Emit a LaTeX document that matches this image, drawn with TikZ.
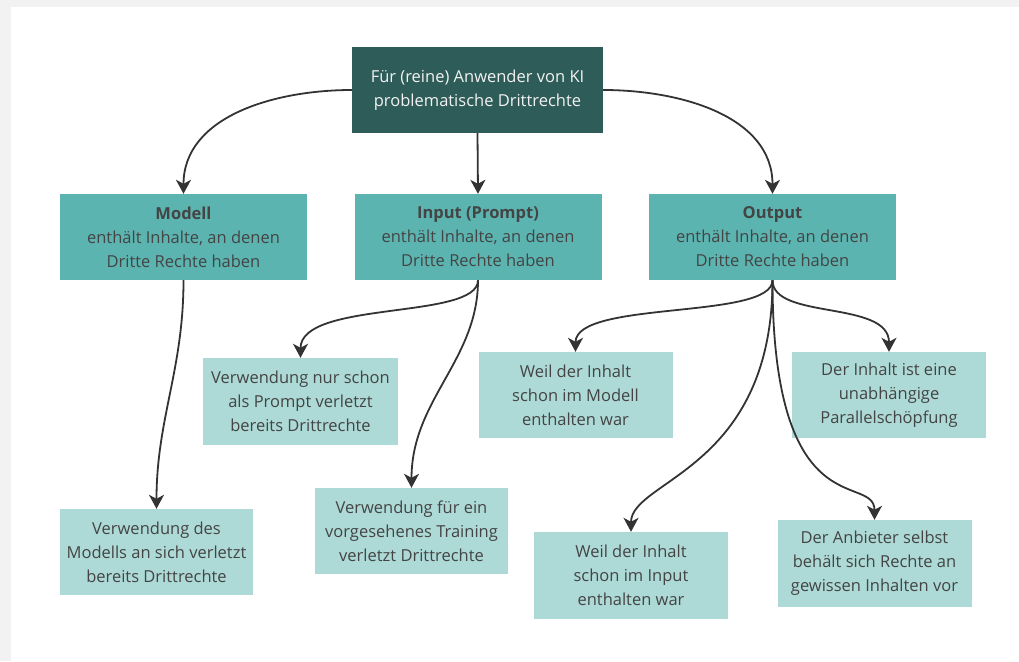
\documentclass[tikz,border=0pt]{standalone}
\usepackage{fontspec}
\setmainfont{Open Sans}
\usetikzlibrary{arrows.meta}
\definecolor{topfill}{HTML}{2E5C58}
\definecolor{midfill}{HTML}{5CB4B0}
\definecolor{leaffill}{HTML}{ADDAD7}
\definecolor{txt}{HTML}{444444}
\definecolor{toptxt}{HTML}{F2F2F2}
\definecolor{arr}{HTML}{333333}
\definecolor{shadow}{HTML}{F2F2F2}
\tikzset{
  box/.style={rectangle, inner sep=0pt, align=center, minimum height=86pt,
    font=\fontsize{16.5}{24}\selectfont, text=txt},
  topbox/.style={box, fill=topfill, text=toptxt, minimum width=251pt},
  midbox/.style={box, fill=midfill, minimum width=247pt},
  leafbox/.style={box, fill=leaffill, minimum width=194pt},
  conn/.style={draw=arr, line width=1.8pt,
    -{Stealth[length=14pt,width=15pt,inset=4pt]}}
}
\begin{document}
\begin{tikzpicture}[x=1pt,y=-1pt]
\useasboundingbox (0,0) rectangle (1019,661);
\fill[shadow] (0,0) rectangle (1019,661);
\fill[white] (11,7) rectangle (1019,661);

\node[topbox] (top) at (477.5,90) {Für (reine) Anwender von KI\\problematische Drittrechte};

\node[midbox] (modell) at (183.5,237) {\textbf{Modell}\\enthält Inhalte, an denen\\Dritte Rechte haben};
\node[midbox] (input) at (478,237) {\textbf{Input (Prompt)}\\enthält Inhalte, an denen\\Dritte Rechte haben};
\node[midbox] (output) at (772.5,237) {\textbf{Output}\\enthält Inhalte, an denen\\Dritte Rechte haben};

\node[leafbox, minimum width=193pt] (leafmodell) at (156.5,552) {Verwendung des\\Modells an sich verletzt\\bereits Drittrechte};
\node[leafbox, minimum width=195pt, minimum height=87pt] (leafprompt) at (300.5,401.5) {Verwendung nur schon\\als Prompt verletzt\\bereits Drittrechte};
\node[leafbox, minimum width=193pt] (leaftraining) at (411.5,531) {Verwendung für ein\\vorgesehenes Training\\verletzt Drittrechte};
\node[leafbox] (weilmodell) at (575.5,395) {Weil der Inhalt\\schon im Modell\\enthalten war};
\node[leafbox] (parallel) at (889,395) {Der Inhalt ist eine\\unabhängige\\Parallelschöpfung};
\node[leafbox, minimum height=87pt] (weilinput) at (631,575.5) {Weil der Inhalt\\schon im Input\\enthalten war};
\node[leafbox, minimum height=87pt] (anbieter) at (874.5,563.5) {Der Anbieter selbst\\behält sich Rechte an\\gewissen Inhalten vor};

\draw[conn] (top.west) to[out=180,in=90] (modell.north);
\draw[conn] (top.east) to[out=0,in=90] (output.north);
\draw[conn] (top.south) -- (input.north);

\draw[conn] (modell.south) to[out=-90,in=90] (leafmodell.north);

\draw[conn] (input.south) .. controls +(0,40) and +(0,-58) .. (leafprompt.north);
\draw[conn] (input.south) .. controls +(0,80) and +(0,-88) .. (leaftraining.north);

\draw[conn] (output.south) .. controls +(0,40) and +(0,-52) .. (weilmodell.north);
\draw[conn] (output.south) .. controls +(0,40) and +(0,-52) .. (parallel.north);
\draw[conn] (output.south) .. controls +(0,190) and +(0,-52) .. (weilinput.north);
\draw[conn] (output.south) .. controls +(0,250) and +(0,-48) .. (anbieter.north);
\end{tikzpicture}
\end{document}
